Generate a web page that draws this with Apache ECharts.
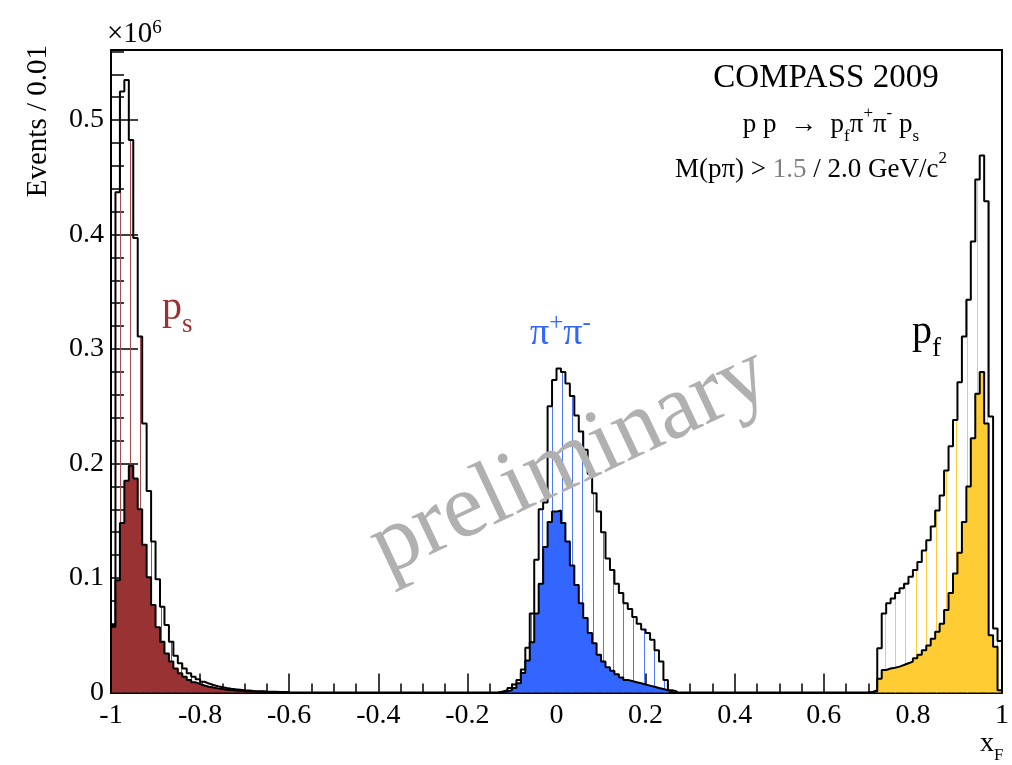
<!DOCTYPE html>
<html><head><meta charset="utf-8">
<script src="https://cdn.jsdelivr.net/npm/echarts@6/dist/echarts.min.js"></script>
<style>html,body{margin:0;padding:0;background:#fff}#c{width:1012px;height:765px}</style>
</head><body><div id="c"></div>
<script>
// ---- data (units of 10^6 events per 0.01 bin) ----
const BIN = 0.01;
const X_MIN = -1, X_MAX = 1, X_STEP = 0.2;
const Y_MAX = 0.5612, Y_STEP = 0.1, Y_MINOR = 0.02;

// slow proton p_s, M(p pi) > 1.5 (hatched) and > 2.0 (filled)
const psStart = -1.00;
const psLoose = [0.059,0.437,0.525,0.535,0.4825,0.397,0.311,0.235,0.176,0.132,0.099,0.075,0.059,0.0444,0.032,0.0255,0.021,0.0168,0.0138,0.0115,0.0094,0.0078,0.0065,0.0055,0.0046,0.0039,0.0033,0.0028,0.0024,0.002,0.0017,0.0014,0.0012,0.001,0.0008,0.0007,0.0006,0.0005,0.0004,0.0003];
const psTight = [0.0575,0.098,0.148,0.185,0.198,0.187,0.160,0.129,0.1006,0.0764,0.057,0.0444,0.034,0.027,0.021,0.0168,0.0138,0.0109,0.0089,0.0074,0.0061,0.0051,0.0043,0.0036,0.003,0.0025,0.0021,0.0018,0.0015,0.0013,0.0011,0.0009,0.0007,0.0006,0.0005,0.0004,0.0003,0.0002];

// pi+ pi- system
const piStart = -0.13;
const piLoose = [0.001,0.002,0.004,0.007,0.011,0.020,0.039,0.069,0.116,0.160,0.166,0.250,0.273,0.283,0.280,0.270,0.259,0.242,0.228,0.212,0.191,0.174,0.158,0.140,0.117,0.107,0.095,0.087,0.078,0.073,0.066,0.060,0.055,0.052,0.046,0.037,0.027,0.011,0.002,0.001];
const piTight = [0.0005,0.001,0.002,0.004,0.008,0.017,0.028,0.044,0.069,0.095,0.127,0.149,0.158,0.159,0.148,0.132,0.111,0.094,0.078,0.065,0.052,0.043,0.033,0.027,0.022,0.019,0.016,0.013,0.011,0.010,0.009,0.008,0.007,0.006,0.005,0.004,0.003,0.002,0.001];

// fast proton p_f
const pfStart = 0.70;
const pfLoose = [0.0005,0.002,0.0386,0.069,0.078,0.082,0.087,0.091,0.095,0.101,0.107,0.114,0.124,0.133,0.145,0.159,0.172,0.194,0.215,0.238,0.271,0.311,0.343,0.394,0.448,0.469,0.429,0.241,0.056,0.045];
const pfTight = [0.0003,0.001,0.012,0.0197,0.021,0.0217,0.0226,0.024,0.0255,0.027,0.030,0.033,0.037,0.041,0.047,0.053,0.060,0.072,0.087,0.104,0.122,0.149,0.180,0.222,0.261,0.28,0.235,0.05,0.04,0.002];

// ---- helpers ----
const FONT = '"Liberation Serif", "Times New Roman", serif';
const r2 = v => Math.round(v * 1e6) / 1e6;
function steps(start, vals) {
  const pts = [[start, 0]];
  vals.forEach((v, i) => pts.push([r2(start + i * BIN), v]));
  const end = r2(start + vals.length * BIN);
  pts.push([end, vals[vals.length - 1]]);
  pts.push([end, 0]);
  return pts;
}
function hatch(color, offsets) {
  const c = document.createElement('canvas');
  c.width = 51; c.height = 4;
  const g = c.getContext('2d');
  g.fillStyle = color;
  offsets.forEach(o => g.fillRect(o, 0, 1, 4));
  return c;
}
const RED = '#993333', BLUE = '#3366ff', YEL = '#ffcc33';
function hist(data, fill, z) {
  return {
    type: 'line', data: data, step: 'end', showSymbol: false, silent: true, z: z,
    lineStyle: { color: '#000', width: 2 },
    areaStyle: { color: fill, opacity: 1, origin: 'start' },
    emphasis: { disabled: true }
  };
}
function txt(x, y, text, size, color, extra, rotation) {
  return { type: 'text', x: x, y: y, z: 100, silent: true, rotation: rotation || 0,
    style: Object.assign({ text: text, fontSize: size, fontFamily: FONT, fill: color, textVerticalAlign: 'middle' }, extra || {}) };
}
function rs(size, lh, va, color) {
  return { fontSize: size, fontFamily: FONT, lineHeight: lh, verticalAlign: va, fill: color, color: color };
}

const chart = echarts.init(document.getElementById('c'), null, { renderer: 'canvas' });
const tickStyle = { color: '#000', width: 1.5 };
chart.setOption({
  animation: false,
  grid: { left: 111, right: 7.5, top: 50, bottom: 72.5, show: true, borderColor: '#000', borderWidth: 2, backgroundColor: 'transparent' },
  xAxis: {
    type: 'value', min: X_MIN, max: X_MAX, interval: X_STEP,
    axisLine: { show: true, onZero: false, lineStyle: { color: '#000', width: 2 } },
    axisTick: { show: true, inside: true, length: 19, lineStyle: tickStyle },
    minorTick: { show: true, splitNumber: 4, length: 9, lineStyle: tickStyle },
    splitLine: { show: false }, minorSplitLine: { show: false },
    axisLabel: { fontFamily: FONT, fontSize: 28, color: '#000', margin: 9,
      formatter: v => String(+v.toFixed(1)) }
  },
  yAxis: [{
    type: 'value', min: 0, max: Y_MAX, interval: Y_STEP, position: 'left',
    axisLine: { show: true, onZero: false, lineStyle: { color: '#000', width: 2 } },
    axisTick: { show: true, inside: true, length: 27, lineStyle: tickStyle },
    splitLine: { show: false },
    axisLabel: { fontFamily: FONT, fontSize: 28, color: '#000', margin: 7,
      formatter: v => (Math.abs(v / Y_STEP - Math.round(v / Y_STEP)) < 1e-6 ? String(+v.toFixed(1)) : '') }
  }, {
    type: 'value', min: 0, max: Y_MAX, interval: Y_MINOR, position: 'left', offset: 0,
    axisLine: { show: false, onZero: false },
    axisTick: { show: true, inside: true, length: 13, lineStyle: tickStyle },
    axisLabel: { show: false }, splitLine: { show: false }
  }],
  series: [
    hist(steps(psStart, psLoose), { image: hatch('#a84a4a', [8, 18, 28, 38, 49]), repeat: 'repeat' }, 2),
    hist(steps(psStart, psTight), RED, 3),
    hist(steps(piStart, piLoose), { image: hatch('#4d79ff', [1, 11, 21, 32, 42]), repeat: 'repeat' }, 2),
    hist(steps(piStart, piTight), BLUE, 3),
    hist(steps(pfStart, pfLoose), { image: hatch('#ffcc33', [8, 18, 28, 38, 49]), repeat: 'repeat' }, 2),
    hist(steps(pfStart, pfTight), YEL, 3)
  ],
  graphic: [
    txt(107, 34, '×10{sup|6}', 29, '#000', { lineHeight: 30, rich: { sup: rs(19, 14, 'top', '#000') } }),
    txt(38, 45, 'Events / 0.01', 29, '#000', { textAlign: 'right' }, Math.PI / 2),
    txt(980, 744, 'x{sub|F}', 28, '#000', { lineHeight: 40, rich: { sub: rs(17, 14, 'bottom', '#000') } }),
    txt(826, 78, 'COMPASS 2009', 33, '#000', { textAlign: 'center' }),
    txt(831, 125, 'p p  →  p{sub|f}π{sup|+}π{sup|-} p{sub|s}', 27, '#000', { textAlign: 'center', lineHeight: 40,
      rich: { sup: rs(17, 16, 'top', '#000'), sub: rs(17, 16, 'bottom', '#000') } }),
    txt(811, 170, 'M(pπ) > {g|1.5} / 2.0 GeV/c{sup|2}', 27, '#000', { textAlign: 'center', lineHeight: 40,
      rich: { g: rs(27, 40, 'middle', '#808080'), sup: rs(17, 18, 'top', '#000') } }),
    txt(162, 308, 'p{sub|s}', 40, RED, { lineHeight: 60, rich: { sub: rs(27, 21, 'bottom', RED) } }),
    txt(530, 334, 'π{sup|+}π{sup|-}', 38, BLUE, { lineHeight: 46, rich: { sup: rs(25, 26, 'top', BLUE) } }),
    txt(912, 332, 'p{sub|f}', 40, '#000', { lineHeight: 60, rich: { sub: rs(27, 21, 'bottom', '#000') } }),
    txt(570, 462, 'preliminary', 92, '#b0b0b0', { textAlign: 'center' }, 0.44)
  ]
});
</script></body></html>
